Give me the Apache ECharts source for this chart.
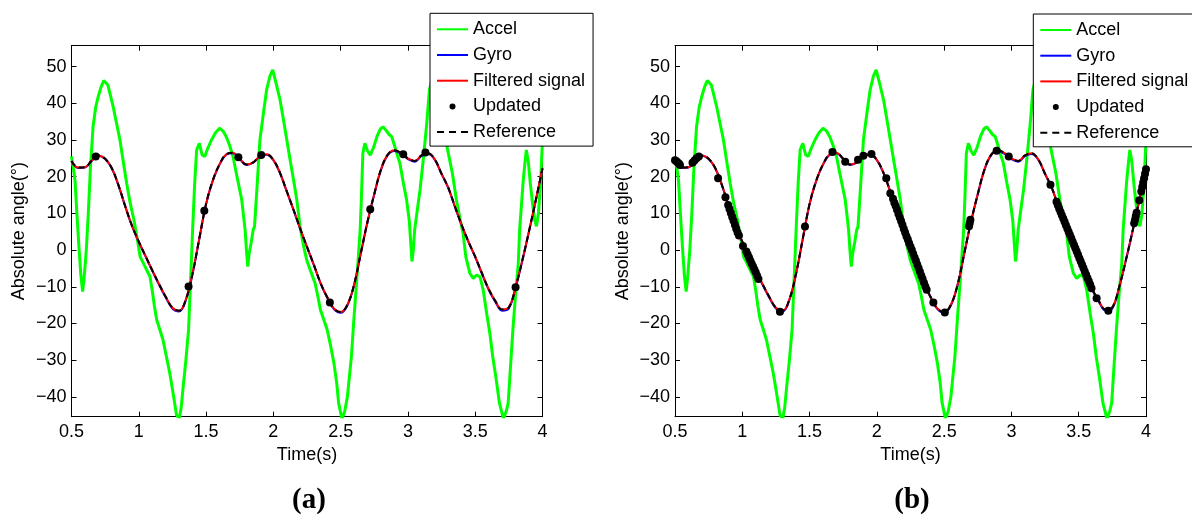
<!DOCTYPE html>
<html>
<head>
<meta charset="utf-8">
<script src="https://cdn.jsdelivr.net/npm/echarts@6/dist/echarts.min.js"></script>
<style>
html, body { margin: 0; padding: 0; background: #fff; }
#main { width: 1192px; height: 516px; }
</style>
</head>
<body>
<div id="main"></div>
<script>
// 平滑曲线的时间点 (s)
var tCurve = [0.50,0.55,0.60,0.65,0.70,0.75,0.80,0.85,0.90,0.95,
              1.00,1.05,1.10,1.15,1.20,1.25,1.30,1.35,1.40,1.45,
              1.50,1.55,1.60,1.65,1.70,1.75,1.80,1.85,1.90,1.95,
              2.00,2.05,2.10,2.15,2.20,2.25,2.30,2.35,2.40,2.45,
              2.50,2.55,2.60,2.65,2.70,2.75,2.80,2.85,2.90,2.95,
              3.00,3.05,3.10,3.15,3.20,3.25,3.30,3.35,3.40,3.45,
              3.50,3.55,3.60,3.65,3.70,3.75,3.80,3.85,3.90,3.95,4.00];

var filteredV = [24.3,22.5,22.6,24.4,25.8,24.9,22.3,17.6,11.9,6.6,
                 2.3,-1.6,-5.5,-9.2,-12.7,-15.7,-16.5,-13.4,-6.3,3.2,
                 12.6,19.0,23.4,26.1,26.5,24.9,23.3,23.9,25.6,26.1,
                 24.6,21.0,16.0,11.0,5.8,0.9,-3.9,-8.9,-12.8,-15.9,
                 -16.9,-14.9,-9.4,-0.8,7.8,15.3,22.0,26.0,27.2,26.4,
                 25.0,24.3,25.8,26.4,24.7,20.8,17.0,11.8,6.8,2.3,
                 -1.8,-6.3,-10.6,-13.9,-16.2,-15.6,-10.1,-2.8,5.2,13.6,22.3];

var gyroV = [24.2,22.4,22.5,24.3,25.7,24.8,22.2,17.5,11.8,6.5,
             2.2,-1.7,-5.6,-9.4,-12.9,-15.9,-16.7,-13.6,-6.4,3.1,
             12.5,18.9,23.3,26.0,26.4,24.8,23.2,23.8,25.5,26.0,
             24.5,20.9,15.9,10.9,5.7,0.8,-4.0,-9.0,-13.0,-16.1,
             -17.1,-15.1,-9.5,-0.9,7.7,15.2,21.9,25.9,27.0,26.2,
             24.8,24.1,25.6,26.2,24.6,20.7,16.9,11.7,6.7,2.2,
             -1.9,-6.5,-10.8,-14.1,-16.5,-15.9,-10.3,-2.9,5.1,13.5,22.2];

var referenceV = [24.3,22.5,22.6,24.4,25.8,24.9,22.3,17.6,11.9,6.6,
                  2.3,-1.6,-5.5,-9.2,-12.7,-15.7,-16.5,-13.4,-6.3,3.2,
                  12.6,19.0,23.4,26.1,26.5,24.9,23.3,23.9,25.6,26.1,
                  24.6,21.0,16.0,11.0,5.8,0.9,-3.9,-8.9,-12.8,-15.9,
                  -16.9,-14.9,-9.4,-0.8,7.8,15.3,22.0,26.0,27.2,26.4,
                  25.0,24.3,25.8,26.4,24.7,20.8,17.0,11.8,6.8,2.3,
                  -1.8,-6.3,-10.6,-13.9,-16.2,-15.6,-10.1,-2.8,5.2,13.6,22.3];

// 加速度计角度 (带噪声)
var accelT = [0.500,0.515,0.526,0.540,0.555,0.570,0.583,0.595,0.610,0.625,0.640,0.660,0.680,0.700,0.720,0.740,0.754,0.770,0.790,0.810,
              0.835,0.860,0.885,0.910,0.935,0.964,0.990,1.010,1.035,1.060,1.083,1.100,1.115,1.133,1.155,1.180,1.205,1.230,1.255,1.280,
              1.300,1.315,1.330,1.350,1.370,1.390,1.400,1.415,1.430,1.450,1.470,1.490,1.510,1.540,1.570,1.600,1.625,1.650,1.675,1.700,
              1.730,1.765,1.790,1.800,1.810,1.820,1.835,1.850,1.860,1.880,1.900,1.925,1.950,1.975,1.995,2.020,2.050,2.075,2.100,2.125,
              2.150,2.175,2.200,2.225,2.250,2.280,2.310,2.330,2.350,2.375,2.400,2.425,2.450,2.470,2.485,2.510,2.530,2.550,2.580,2.600,
              2.620,2.645,2.655,2.665,2.680,2.700,2.720,2.745,2.770,2.795,2.815,2.840,2.860,2.880,2.900,2.920,2.940,2.965,2.990,3.010,
              3.030,3.040,3.050,3.070,3.090,3.115,3.140,3.160,3.190,3.220,3.250,3.270,3.290,3.330,3.360,3.390,3.410,3.430,3.460,3.485,
              3.510,3.535,3.560,3.585,3.610,3.630,3.655,3.680,3.710,3.730,3.745,3.760,3.780,3.800,3.820,3.830,3.845,3.857,3.870,3.880,
              3.895,3.910,3.925,3.940,3.955,3.970,3.985,4.000];
var accelV = [25.5,22.0,19.0,10.0,1.0,-7.0,-11.3,-7.0,0.0,10.0,22.0,33.6,39.0,42.0,44.5,46.2,46.4,45.0,42.0,39.0,
              34.5,30.0,24.0,18.2,13.0,8.2,2.8,-1.8,-3.6,-5.5,-7.2,-11.0,-15.0,-19.0,-21.5,-24.5,-29.0,-33.5,-39.0,-44.9,
              -46.0,-43.0,-37.2,-30.0,-21.7,-3.6,5.5,18.0,27.3,29.1,26.0,25.5,27.5,30.0,32.0,33.2,32.5,30.9,28.5,25.5,
              20.0,13.7,5.5,0.0,-4.5,-1.0,2.0,5.5,6.4,18.0,30.0,37.0,43.7,47.5,49.1,45.5,40.9,35.5,30.0,24.5,
              19.1,13.5,6.0,1.0,-3.0,-6.0,-9.0,-12.5,-16.3,-19.0,-21.7,-26.0,-30.8,-36.0,-41.7,-46.0,-44.0,-40.0,-29.0,-18.0,
              -8.1,5.5,15.0,26.4,29.1,27.0,25.9,28.0,31.0,33.0,33.6,32.5,31.5,30.9,28.5,26.0,23.7,18.5,13.7,8.0,
              -3.1,0.0,5.5,11.0,16.4,25.0,34.6,43.7,48.0,46.0,40.0,34.0,28.2,21.0,13.7,8.0,4.6,-1.8,-6.3,-7.7,
              -6.8,-7.2,-11.0,-17.2,-23.0,-29.0,-35.0,-41.7,-46.0,-44.0,-41.7,-33.0,-21.7,-12.0,-3.6,5.5,13.0,19.1,24.0,27.3,
              24.0,18.0,13.0,8.5,6.5,10.0,18.0,30.0];

// (a) 更新点
var updatedAT = [0.68,1.37,1.487,1.74,1.91,2.42,2.72,2.965,3.13,3.80];
var updatedAV = [25.5,-9.9,10.7,25.3,25.9,-14.3,11.1,26.1,26.6,-10.1];

// (b) 更新点
var updatedBT = [0.500,0.510,0.520,0.530,0.537,0.630,0.645,0.660,0.677,0.820,0.875,
                 0.895,0.905,0.915,0.925,0.935,0.945,0.955,0.965,0.975,1.005,
                 1.030,1.040,1.050,1.060,1.070,1.080,1.090,1.100,1.110,1.120,
                 1.280,1.466,1.670,1.765,1.860,1.900,1.960,2.070,2.100,
                 2.120,2.130,2.140,2.150,2.160,2.170,2.180,2.190,2.200,2.210,2.220,2.230,2.240,
                 2.250,2.260,2.270,2.280,2.290,2.300,2.310,2.320,2.330,2.340,2.350,2.360,2.370,
                 2.420,2.505,2.685,2.690,2.695,2.890,2.980,3.290,
                 3.335,3.345,3.355,3.365,3.375,3.385,3.395,3.405,3.415,3.425,3.435,3.445,3.455,3.465,
                 3.475,3.485,3.495,3.505,3.515,3.525,3.535,3.545,3.555,3.565,3.575,3.585,3.595,
                 3.633,3.720,3.912,3.918,3.924,3.930,3.950,3.965,3.972,3.979,3.986,3.993,4.000];
var updatedBV = [24.5,24.2,23.9,23.5,23.2,23.8,24.4,25.0,25.5,19.6,14.4,
                 12.3,11.2,10.1,9.0,8.0,6.9,5.8,4.8,4.0,1.1,
                 -0.4,-1.2,-2.0,-2.9,-3.7,-4.5,-5.3,-6.1,-7.0,-7.9,
                 -16.8,6.4,26.7,24.1,24.6,25.7,26.2,19.6,15.5,
                 14.0,12.9,12.0,11.0,9.9,8.9,7.9,6.9,5.8,4.8,3.8,2.9,1.9,
                 0.9,0.0,-1.0,-2.0,-2.9,-3.9,-4.9,-5.9,-6.9,-7.9,-8.9,-9.9,-10.8,
                 -14.3,-17.0,6.5,7.3,8.3,27.1,25.5,17.8,
                 13.2,12.2,11.3,10.4,9.5,8.6,7.7,6.8,5.9,5.0,4.1,3.2,2.3,1.4,
                 0.5,-0.4,-1.3,-2.2,-3.1,-4.0,-4.9,-5.8,-6.7,-7.6,-8.5,-9.4,-10.4,
                 -13.1,-16.5,7.3,8.2,9.2,10.2,13.6,16.0,17.2,18.4,19.6,20.8,22.0];

var FONT = '"Liberation Sans", Arial, Helvetica, sans-serif';

// 图例图标: 实线 / 圆点 / 虚线
var ICON_LINE = 'path://M0,0H31V2H0Z';
var ICON_DASH = 'path://M0,0H7V2H0Z M12,0H19V2H12Z M24,0H31V2H24Z';

function pairs(t, v) {
    var out = [];
    for (var i = 0; i < t.length; i++) {
        out.push([t[i], v[i]]);
    }
    return out;
}

var myChart = echarts.init(document.getElementById('main'));

var grids = [
    { left: 71.5, top: 45.7, width: 471, height: 371 },
    { left: 675, top: 45.7, width: 471, height: 371 }
];

function xAxisOf(g, bottom) {
    return {
        type: 'value',
        gridIndex: g,
        position: bottom ? 'bottom' : 'top',
        min: 0.5,
        max: 4,
        interval: 0.5,
        axisLine: { show: true, onZero: false, lineStyle: { color: '#000', width: 1 } },
        axisTick: { show: true, inside: true, length: 5, lineStyle: { color: '#000' } },
        axisLabel: { show: bottom, color: '#000', fontSize: 18, fontFamily: FONT, margin: 6 },
        splitLine: { show: false },
        name: bottom ? 'Time(s)' : '',
        nameLocation: 'middle',
        nameGap: 24,
        nameTextStyle: { color: '#000', fontSize: 18, fontFamily: FONT }
    };
}

function yAxisOf(g, left) {
    return {
        type: 'value',
        gridIndex: g,
        position: left ? 'left' : 'right',
        min: -45.4,
        max: 55.7,
        splitNumber: 10,
        axisLine: { show: true, onZero: false, lineStyle: { color: '#000', width: 1 } },
        axisTick: { show: true, inside: true, length: 5, lineStyle: { color: '#000' } },
        axisLabel: {
            show: left,
            showMinLabel: false,
            showMaxLabel: false,
            color: '#000',
            fontSize: 18,
            fontFamily: FONT,
            margin: 5,
            formatter: function (v) { return String(v).replace('-', '\u2212'); }
        },
        splitLine: { show: false },
        name: left ? 'Absolute angle(\u00b0)' : '',
        nameLocation: 'middle',
        nameGap: 43,
        nameTextStyle: { color: '#000', fontSize: 18, fontFamily: FONT }
    };
}

function seriesOf(g, updT, updV) {
    var xi = g * 2, yi = g * 2;
    return [
        {
            name: 'Accel', type: 'line', xAxisIndex: xi, yAxisIndex: yi,
            data: pairs(accelT, accelV), symbol: 'none', smooth: false,
            lineStyle: { color: '#00ff00', width: 3 }, itemStyle: { color: '#00ff00' }
        },
        {
            name: 'Gyro', type: 'line', xAxisIndex: xi, yAxisIndex: yi,
            data: pairs(tCurve, gyroV), symbol: 'none', smooth: 0.4,
            lineStyle: { color: '#0000ff', width: 2 }, itemStyle: { color: '#0000ff' }
        },
        {
            name: 'Filtered signal', type: 'line', xAxisIndex: xi, yAxisIndex: yi,
            data: pairs(tCurve, filteredV), symbol: 'none', smooth: 0.4,
            lineStyle: { color: '#ff0000', width: 2 }, itemStyle: { color: '#ff0000' }
        },
        {
            name: 'Updated', type: 'scatter', xAxisIndex: xi, yAxisIndex: yi,
            z: 5,
            data: pairs(updT, updV), symbol: 'circle', symbolSize: 8,
            itemStyle: { color: '#000', opacity: 1 }
        },
        {
            name: 'Reference', type: 'line', xAxisIndex: xi, yAxisIndex: yi,
            data: pairs(tCurve, referenceV), symbol: 'none', smooth: 0.4,
            lineStyle: { color: '#000', width: 2, type: [6, 4] }, itemStyle: { color: '#000' }
        }
    ];
}

function legendOf(left, top) {
    return {
        orient: 'vertical',
        left: left,
        top: top,
        z: 10,
        padding: [7, 8, 5, 7],
        itemWidth: 31,
        itemHeight: 6,
        itemGap: 7.7,
        itemTextGap: 4,
        backgroundColor: '#fff',
        borderColor: '#000',
        borderWidth: 1,
        borderRadius: 0,
        selectedMode: false,
        textStyle: { color: '#000', fontSize: 18, fontFamily: FONT, lineHeight: 18 },
        data: [
            { name: 'Accel', icon: ICON_LINE },
            { name: 'Gyro', icon: ICON_LINE },
            { name: 'Filtered signal', icon: ICON_LINE },
            { name: 'Updated', icon: 'circle' },
            { name: 'Reference', icon: ICON_DASH }
        ]
    };
}

var option = {
    animation: false,
    backgroundColor: '#fff',
    title: [
        { text: '(a)', left: 304, top: 481, textAlign: 'center',
          textStyle: { fontFamily: '"Liberation Serif", "Times New Roman", serif', fontWeight: 'bold', fontSize: 29, color: '#000' } },
        { text: '(b)', left: 907, top: 481, textAlign: 'center',
          textStyle: { fontFamily: '"Liberation Serif", "Times New Roman", serif', fontWeight: 'bold', fontSize: 29, color: '#000' } }
    ],
    grid: grids,
    xAxis: [xAxisOf(0, true), xAxisOf(0, false), xAxisOf(1, true), xAxisOf(1, false)],
    yAxis: [yAxisOf(0, true), yAxisOf(0, false), yAxisOf(1, true), yAxisOf(1, false)],
    legend: [legendOf(430, 13.3), legendOf(1033.3, 14)],
    series: seriesOf(0, updatedAT, updatedAV).concat(seriesOf(1, updatedBT, updatedBV))
};

myChart.setOption(option);
</script>
</body>
</html>
